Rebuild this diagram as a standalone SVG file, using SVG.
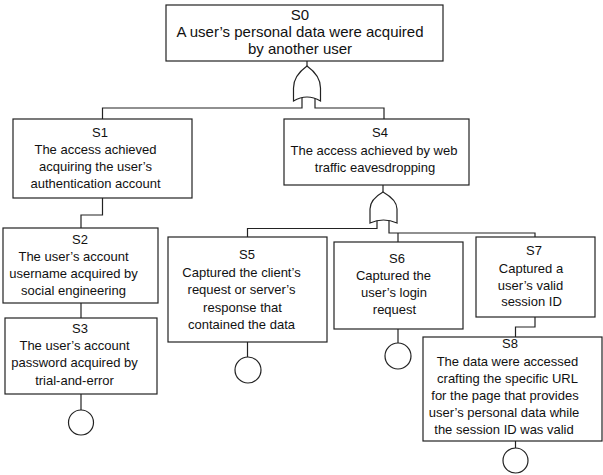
<svg xmlns="http://www.w3.org/2000/svg" width="603" height="475" viewBox="0 0 603 475">
<style>
.box{fill:#fff;stroke:#222;stroke-width:1.2}
.ln{fill:none;stroke:#222;stroke-width:1.2}
.gate{fill:#fff;stroke:#222;stroke-width:1.2}
.ev{fill:#fff;stroke:#222;stroke-width:1.2}
text{font-family:"Liberation Sans",Arial,sans-serif;font-size:13px;fill:#111;text-anchor:middle}
.big{font-size:15px}
</style>
<rect width="603" height="475" fill="#fff"/>
<g id="connectors">
<path class="ln" d="M307,61 V67"/>
<path class="ln" d="M302,97 V108 H102.5 V119"/>
<path class="ln" d="M315,97 V108 H384 V119"/>
<path class="ln" d="M102.5,198 V215 H81 V228"/>
<path class="ln" d="M81,303 V318"/>
<path class="ln" d="M81,394 V410"/>
<path class="ln" d="M383,185 V192"/>
<path class="ln" d="M377,219 V228.5 H247.5 V237"/>
<path class="ln" d="M389,219 V233 H535 V237"/>
<path class="ln" d="M398,233 V242"/>
<path class="ln" d="M247.5,342 V357"/>
<path class="ln" d="M398,329 V343"/>
<path class="ln" d="M535,317 V327 H515.5 V337"/>
<path class="ln" d="M515.5,441 V448"/>
</g>
<g id="gates">
<path class="gate" d="M293.5,101 V88 C293.5,78 300,71 307,66 C314,71 320.5,78 320.5,88 V101 Q307,93 293.5,101 Z"/>
<path class="gate" d="M370,223 V209 C370,201 376,196 383,192 C390,196 397,201 397,209 V223 Q383.5,217 370,223 Z"/>
</g>
<g id="S0">
<rect class="box" x="166" y="5" width="277" height="56"/>
<text class="big" x="300" y="20">S0</text>
<text class="big" x="300" y="37">A user’s personal data were acquired</text>
<text class="big" x="300" y="54">by another user</text>
</g>
<g id="S1">
<rect class="box" x="13" y="119" width="179" height="79"/>
<text x="100" y="137">S1</text>
<text x="95.5" y="153.5">The access achieved</text>
<text x="95.5" y="170.5">acquiring the user’s</text>
<text x="95.5" y="187.5">authentication account</text>
</g>
<g id="S2">
<rect class="box" x="3" y="228" width="155" height="75"/>
<text x="80" y="243.5">S2</text>
<text x="73.5" y="260.5">The user’s account</text>
<text x="73.5" y="277.5">username acquired by</text>
<text x="73.5" y="294.5">social engineering</text>
</g>
<g id="S3">
<rect class="box" x="5" y="318" width="152" height="76"/>
<text x="80" y="333">S3</text>
<text x="74.5" y="350">The user’s account</text>
<text x="74.5" y="367">password acquired by</text>
<text x="74.5" y="384.5">trial-and-error</text>
<circle class="ev" cx="81" cy="422.5" r="12.5"/>
</g>
<g id="S4">
<rect class="box" x="284" y="119" width="185" height="66"/>
<text x="380" y="137">S4</text>
<text x="374" y="155">The access achieved by web</text>
<text x="375" y="172">traffic eavesdropping</text>
</g>
<g id="S5">
<rect class="box" x="168" y="237" width="159" height="105"/>
<text x="247" y="259">S5</text>
<text x="241.5" y="276.5">Captured the client’s</text>
<text x="241.5" y="294">request or server’s</text>
<text x="242.5" y="311.5">response that</text>
<text x="241.5" y="329">contained the data</text>
<circle class="ev" cx="248" cy="370" r="13"/>
</g>
<g id="S6">
<rect class="box" x="334" y="242" width="129" height="87"/>
<text x="397" y="263">S6</text>
<text x="393.5" y="280">Captured the</text>
<text x="394" y="297">user’s login</text>
<text x="394.5" y="314">request</text>
<circle class="ev" cx="398" cy="356" r="13"/>
</g>
<g id="S7">
<rect class="box" x="476" y="237" width="119" height="80"/>
<text x="534" y="255">S7</text>
<text x="531" y="272.5">Captured a</text>
<text x="530.5" y="289.5">user’s valid</text>
<text x="531.5" y="306">session ID</text>
</g>
<g id="S8">
<rect class="box" x="423" y="337" width="179" height="104"/>
<text x="510" y="348">S8</text>
<text x="507.5" y="366">The data were accessed</text>
<text x="507.5" y="383">crafting the specific URL</text>
<text x="505" y="400">for the page that provides</text>
<text x="504" y="417">user’s personal data while</text>
<text x="504" y="434">the session ID was valid</text>
<circle class="ev" cx="515.5" cy="460.5" r="12.5"/>
</g>
</svg>
